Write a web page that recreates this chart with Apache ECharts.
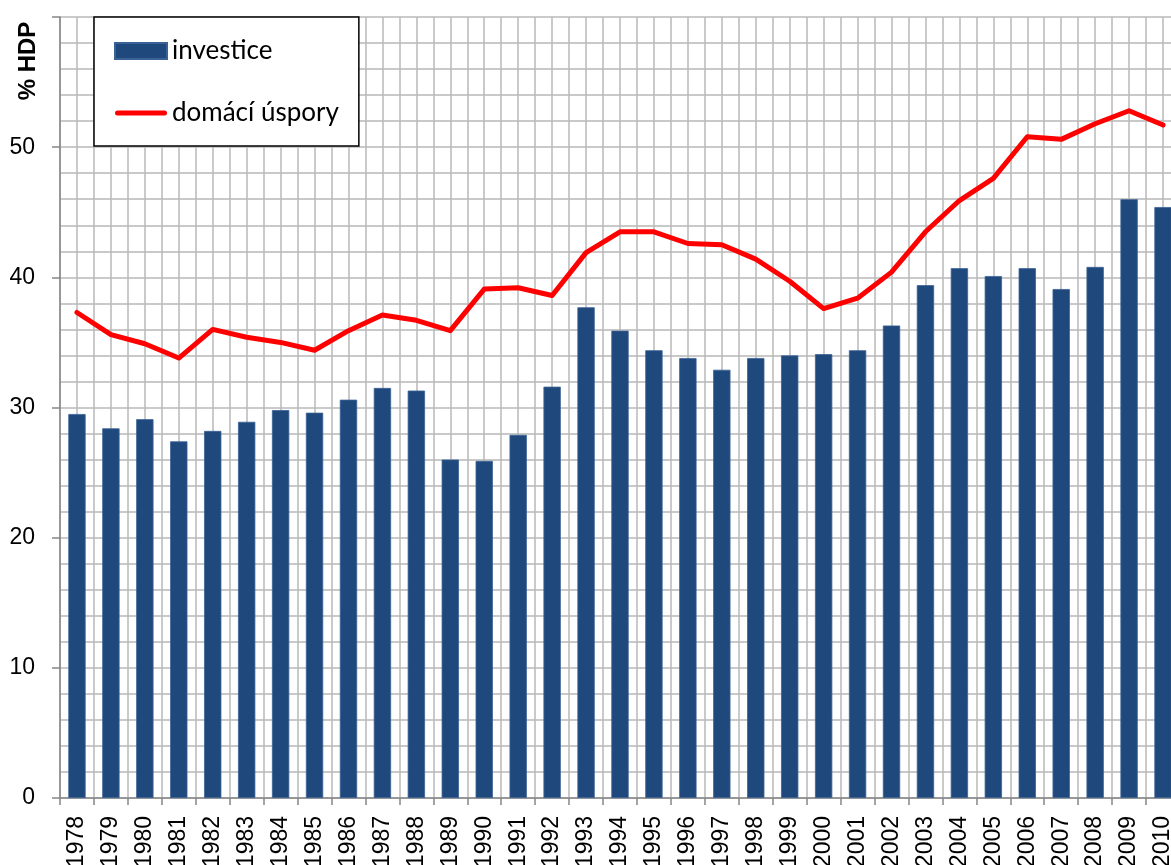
<!DOCTYPE html>
<html>
<head>
<meta charset="utf-8">
<script src="https://cdn.jsdelivr.net/npm/echarts@6/dist/echarts.min.js"></script>
<style>
html,body{margin:0;padding:0;background:#fff;}
#c{width:1171px;height:865px;}
</style>
</head>
<body>
<div id="c"></div>
<script>
const years = ['1978','1979','1980','1981','1982','1983','1984','1985','1986','1987','1988','1989','1990','1991','1992','1993','1994','1995','1996','1997','1998','1999','2000','2001','2002','2003','2004','2005','2006','2007','2008','2009','2010'];
const investice = [29.5,28.4,29.1,27.4,28.2,28.9,29.8,29.6,30.6,31.5,31.3,26.0,25.9,27.9,31.6,37.7,35.9,34.4,33.8,32.9,33.8,34.0,34.1,34.4,36.3,39.4,40.7,40.1,40.7,39.1,40.8,46.0,45.4];
const uspory = [37.3,35.6,34.9,33.8,36.0,35.4,35.0,34.4,35.9,37.1,36.7,35.9,39.1,39.2,38.6,41.9,43.5,43.5,42.6,42.5,41.4,39.7,37.6,38.4,40.4,43.5,45.9,47.6,50.8,50.6,51.8,52.8,51.7];
const seriesNames = ['investice','domácí úspory'];
const yTicks = [0,10,20,30,40,50];

const chart = echarts.init(document.getElementById('c'), null, {renderer:'canvas'});
const grid = '#b8b8b8';
chart.setOption({
  animation:false,
  backgroundColor:'#fff',
  grid:{left:60,right:-9,top:17,bottom:67,containLabel:false,outerBoundsMode:'none'},
  legend:{
    left:94, top:17, orient:'vertical',
    backgroundColor:'#fff', borderColor:'#000', borderWidth:1.5,
    padding:[21,20,20,20], itemGap:36,
    itemWidth:52, itemHeight:16,
    textStyle:{fontFamily:'Lato', fontSize:26, color:'#000'},
    data:[
      {name:seriesNames[0], icon:'rect'},
      {name:seriesNames[1], icon:'path://M2.5,0 L49.5,0 A2.5,2.5 0 0 1 49.5,5 L2.5,5 A2.5,2.5 0 0 1 2.5,0 Z'}
    ]
  },
  graphic:[{type:'text', x:28, y:61, rotation:Math.PI/2,
    style:{text:'% HDP', font:'bold 24px "Liberation Sans"', fill:'#000', align:'center', verticalAlign:'middle'}}],
  xAxis:[{
    type:'category', data:years, boundaryGap:true,
    axisLine:{lineStyle:{color:'#868686', width:1.5}},
    axisTick:{show:true, length:7, lineStyle:{color:'#868686', width:1.5}},
    axisLabel:{rotate:90, interval:0, margin:18, fontFamily:'Liberation Sans', fontSize:23, color:'#000'},
    splitLine:{show:false}
  },{
    type:'value', min:0, max:33, interval:0.5, position:'top',
    axisLine:{show:false}, axisTick:{show:false}, axisLabel:{show:false},
    splitLine:{show:true, lineStyle:{color:grid, width:1.5}}
  }],
  yAxis:{
    type:'value', min:0, max:60, interval:10,
    axisLine:{show:true, lineStyle:{color:'#868686', width:1.5}},
    axisTick:{show:true, length:8, lineStyle:{color:'#868686', width:1.5}},
    axisLabel:{margin:25, fontFamily:'Liberation Sans', fontSize:23, color:'#000',
      formatter:v=> yTicks.indexOf(v)>=0 ? String(v) : ''},
    splitLine:{show:true, lineStyle:{color:grid, width:1.5}},
    minorTick:{show:false, splitNumber:5},
    minorSplitLine:{show:true, lineStyle:{color:grid, width:1.5}}
  },
  series:[{
    name:seriesNames[0], type:'bar', data:investice, barWidth:'51%',
    itemStyle:{color:'#1f497d', borderColor:'#3b6294', borderWidth:0.8}
  },{
    name:seriesNames[1], type:'line', data:uspory, symbol:'none',
    lineStyle:{color:'#ff0000', width:5, cap:'round', join:'round'},
    itemStyle:{color:'#ff0000'}
  }]
});
</script>
</body>
</html>
